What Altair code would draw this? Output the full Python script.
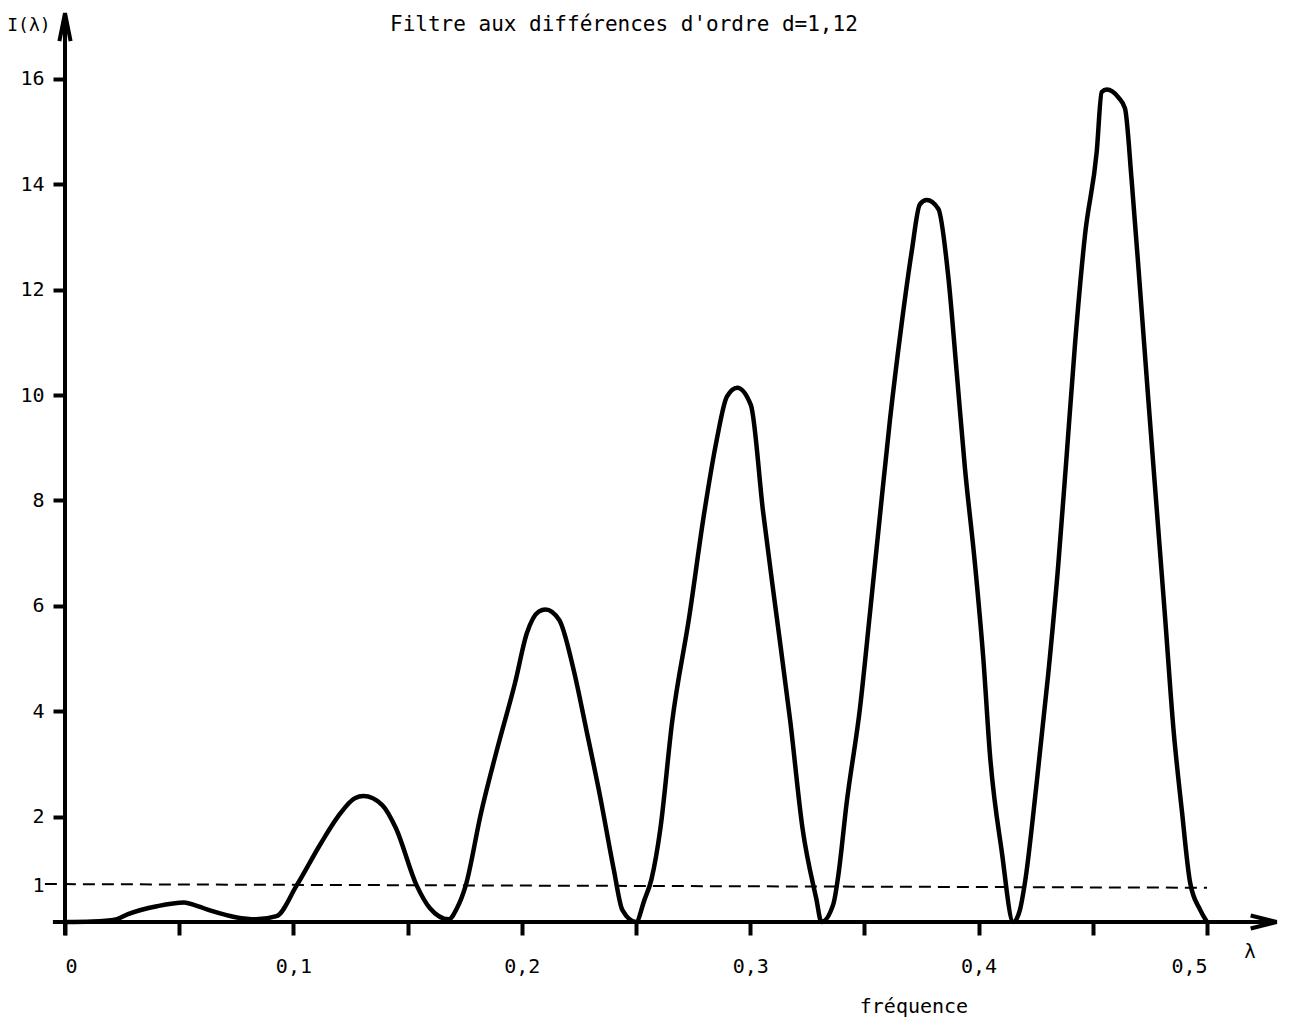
import altair as alt
import pandas as pd

# ---- data ----
curve_lambda = [0.0, 0.012, 0.0223, 0.0276, 0.0403, 0.0522, 0.0567, 0.0642, 0.0747, 0.0836,
                0.0926, 0.1015, 0.112, 0.1195, 0.1269, 0.1307, 0.1389, 0.1449, 0.1539, 0.1598,
                0.168, 0.1716, 0.1755, 0.1821, 0.1895, 0.197, 0.2022, 0.2074, 0.2104, 0.2164,
                0.2224, 0.2283, 0.2343, 0.2403, 0.244, 0.25, 0.2537, 0.2567, 0.2607, 0.2658,
                0.2733, 0.28, 0.2853, 0.2898, 0.2943, 0.3003, 0.3056, 0.3116, 0.3176, 0.3229,
                0.3289, 0.3312, 0.3364, 0.3386, 0.3422, 0.3481, 0.3525, 0.3568, 0.3612, 0.3663,
                0.3707, 0.3743, 0.3773, 0.3824, 0.3867, 0.3904, 0.394, 0.3984, 0.4021, 0.405,
                0.4101, 0.4152, 0.4181, 0.4203, 0.4254, 0.4305, 0.4349, 0.4386, 0.4422, 0.4466,
                0.4517, 0.4539, 0.4561, 0.4612, 0.4641, 0.467, 0.4707, 0.4743, 0.478, 0.4817,
                0.4853, 0.489, 0.4926, 0.497, 0.5]
curve_value = [0.0, 0.01, 0.05, 0.15, 0.30, 0.37, 0.32, 0.21, 0.09, 0.05,
               0.11, 0.70, 1.49, 2.0, 2.35, 2.39, 2.22, 1.78, 0.70, 0.26,
               0.05, 0.26, 0.70, 2.06, 3.33, 4.53, 5.48, 5.89, 5.93, 5.73,
               4.84, 3.64, 2.38, 0.99, 0.23, 0.0, 0.42, 0.8, 1.78, 3.79,
               5.79, 7.8, 9.14, 9.97, 10.14, 9.81, 7.8, 5.79, 3.79, 1.78,
               0.45, 0.0, 0.34, 0.89, 2.25, 4.07, 5.89, 7.71, 9.53, 11.35,
               12.72, 13.62, 13.70, 13.53, 12.26, 10.44, 8.62, 6.8, 4.98, 3.16,
               1.35, 0.0, 0.23, 0.75, 2.63, 4.71, 6.79, 8.88, 10.96, 13.04,
               14.61, 15.75, 15.8, 15.65, 15.44, 14.08, 12.0, 9.92, 7.83, 5.75,
               3.67, 2.11, 0.75, 0.23, 0.0]

# dashed reference line "1"
dash_lambda = [-0.0088, 0.5]
dash_value = [0.72, 0.65]

# y tick values (the "1" tick sits on the dashed line)
y_tick_values = [0.7, 2, 4, 6, 8, 10, 12, 14, 16]
x_tick_values = [0, 0.05, 0.1, 0.15, 0.2, 0.25, 0.3, 0.35, 0.4, 0.45, 0.5]

# hand-drawn axis extents
x_axis_from, x_axis_to = -0.0053, 0.5305
y_axis_from, y_axis_to = -0.25, 17.25

title_text = "Filtre aux différences d'ordre d=1,12"
y_label_text = "I(λ)"
x_label_text = "fréquence"
x_arrow_text = "λ"

FONT = "DejaVu Sans Mono"
X_DOMAIN = [0, 0.5]
Y_DOMAIN = [0, 17.25]

xs = alt.Scale(domain=X_DOMAIN, nice=False, zero=False)
ys = alt.Scale(domain=Y_DOMAIN, nice=False, zero=False)

curve_df = pd.DataFrame({"lam": curve_lambda, "val": curve_value})

x_axis = alt.Axis(
    values=x_tick_values, domain=False, grid=False, title=None,
    tickSize=13, tickWidth=4, tickColor="black",
    labelExpr="datum.value == 0 ? '0' : (abs(datum.value*10 - round(datum.value*10)) < 0.001 ? replace(format(datum.value, '.1f'), '.', ',') : '')",
    labelFont=FONT, labelFontSize=20, labelColor="black", labelPadding=21,
)
y_axis = alt.Axis(
    values=y_tick_values, domain=False, grid=False, title=None,
    tickSize=12, tickWidth=4,
    tickColor={"condition": {"test": "datum.value < 1", "value": "transparent"}, "value": "black"},
    labelExpr="datum.value < 1 ? '1' : format(datum.value, 'd')",
    labelFont=FONT, labelFontSize=20, labelColor="black", labelPadding=9,
)

curve = alt.Chart(curve_df).mark_line(
    color="black", strokeWidth=4.5, interpolate="monotone", strokeJoin="round", strokeCap="round"
).encode(
    x=alt.X("lam:Q", scale=xs, axis=x_axis),
    y=alt.Y("val:Q", scale=ys, axis=y_axis),
)

dash_df = pd.DataFrame({"x1": [dash_lambda[0]], "x2": [dash_lambda[1]],
                        "y1": [dash_value[0]], "y2": [dash_value[1]]})
dashed = alt.Chart(dash_df).mark_rule(color="black", strokeWidth=2, strokeDash=[12, 7]).encode(
    x=alt.X("x1:Q", scale=xs), x2="x2", y=alt.Y("y1:Q", scale=ys), y2="y2"
)

xaxis_df = pd.DataFrame({"a": [x_axis_from], "b": [x_axis_to], "y": [0.0]})
xaxis_line = alt.Chart(xaxis_df).mark_rule(color="black", strokeWidth=4).encode(
    x=alt.X("a:Q", scale=xs), x2="b", y=alt.Y("y:Q", scale=ys)
)
yaxis_df = pd.DataFrame({"x": [0.0], "a": [y_axis_from], "b": [y_axis_to]})
yaxis_line = alt.Chart(yaxis_df).mark_rule(color="black", strokeWidth=4).encode(
    x=alt.X("x:Q", scale=xs), y=alt.Y("a:Q", scale=ys), y2="b"
)

# arrow heads
xarrow_df = pd.DataFrame({"x": [0.5248], "y": [0.0]})
xarrow = alt.Chart(xarrow_df).mark_point(
    shape="M-1,-0.5L1,0L-1,0.5", size=676, filled=False, strokeWidth=4,
    color="black", opacity=1, strokeJoin="miter"
).encode(x=alt.X("x:Q", scale=xs), y=alt.Y("y:Q", scale=ys))

yarrow_df = pd.DataFrame({"x": [0.0], "y": [16.98]})
yarrow = alt.Chart(yarrow_df).mark_point(
    shape="M-0.4,1L0,-1L0.4,1", size=784, filled=False, strokeWidth=4,
    color="black", opacity=1, strokeJoin="miter"
).encode(x=alt.X("x:Q", scale=xs), y=alt.Y("y:Q", scale=ys))

# texts
text_df = pd.DataFrame({
    "t": [title_text, y_label_text, x_label_text, x_arrow_text],
    "x": [0.2447, -0.0158, 0.3717, 0.5188],
    "y": [17.02, 17.0, -1.62, -0.57],
    "s": [21, 18, 20, 19],
})
texts = alt.Chart(text_df).mark_text(
    font=FONT, color="black", align="center", baseline="middle"
).encode(
    x=alt.X("x:Q", scale=xs), y=alt.Y("y:Q", scale=ys), text="t:N",
    size=alt.Size("s:Q", scale=None, legend=None),
)

chart = alt.layer(dashed, xaxis_line, yaxis_line, curve, xarrow, yarrow, texts).properties(
    width=1142, height=909,
    autosize=alt.AutoSizeParams(type="none"),
    padding={"left": 57, "top": 5, "right": 75, "bottom": 100},
).configure_view(stroke=None)

chart.save("out.html", embed_options={"renderer": "svg", "actions": False})
